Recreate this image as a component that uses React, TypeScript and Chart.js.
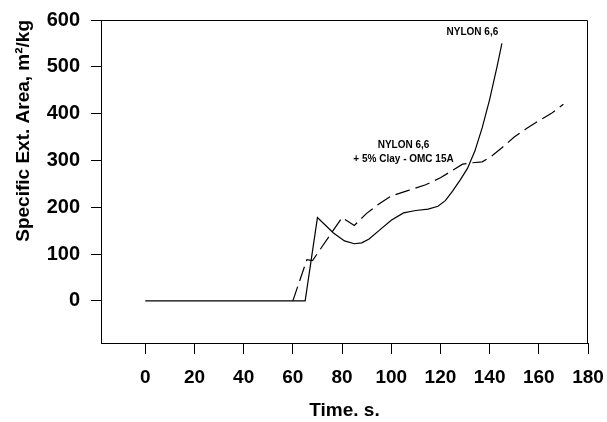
import React, { useEffect, useRef } from "react";
import { Chart, registerables } from "chart.js";

Chart.register(...registerables);

const nylonTime = [0, 65, 70, 76.5, 81, 85, 88, 91, 95, 100, 105, 110, 115, 119, 122, 125, 128, 131, 134, 137, 140, 143, 145];
const nylonArea = [0, 0, 178, 145, 128, 122, 124, 132, 150, 172, 188, 193, 196, 202, 214, 235, 258, 283, 320, 370, 430, 500, 550];

const clayTime = [60, 65.7, 68, 80, 85, 90, 95, 100, 107, 114, 120, 125, 129, 133, 137, 141, 145, 150, 155, 160, 165, 170];
const clayArea = [0, 88, 86, 178, 161, 187, 207, 224, 236, 248, 263, 279, 292, 295, 297, 310, 327, 350, 368, 385, 400, 420];

const xTicks = [0, 20, 40, 60, 80, 100, 120, 140, 160, 180];
const yTicks = [0, 100, 200, 300, 400, 500, 600];

const labels = [
  { text: "NYLON 6,6", x: 133, y: 573 },
  { text: "NYLON 6,6", x: 105, y: 333 },
  { text: "+ 5% Clay - OMC 15A", x: 105, y: 303 },
];

const FONT = '"Liberation Sans", Arial, sans-serif';

const zeroPad = (s: any) => {
  s.paddingTop = 0;
  s.paddingBottom = 0;
  s.paddingLeft = 0;
  s.paddingRight = 0;
};

export default function App() {
  const ref = useRef<HTMLCanvasElement>(null);
  useEffect(() => {
    document.body.style.margin = "0";
    const ctx = ref.current!;
    const boxPlugin = {
      id: "box",
      afterDraw(chart: any) {
        const { ctx, chartArea } = chart;
        ctx.save();
        ctx.strokeStyle = "#000";
        ctx.lineWidth = 1;
        ctx.beginPath();
        ctx.moveTo(chartArea.left, chartArea.top + 0.5);
        ctx.lineTo(chartArea.right - 0.5, chartArea.top + 0.5);
        ctx.lineTo(chartArea.right - 0.5, chartArea.bottom);
        ctx.stroke();
        ctx.fillStyle = "#000";
        ctx.font = `bold 10px ${FONT}`;
        ctx.textAlign = "center";
        ctx.textBaseline = "middle";
        const xs = chart.scales.x;
        const ys = chart.scales.y;
        for (const l of labels) {
          ctx.fillText(l.text, xs.getPixelForValue(l.x), ys.getPixelForValue(l.y));
        }
        ctx.restore();
      },
    };
    const chart = new Chart(ctx, {
      type: "line",
      data: {
        datasets: [
          {
            label: "NYLON 6,6",
            data: nylonTime.map((t, i) => ({ x: t, y: nylonArea[i] })),
            borderColor: "#000",
            borderWidth: 1.2,
            pointRadius: 0,
            tension: 0,
            fill: false,
          },
          {
            label: "NYLON 6,6 + 5% Clay - OMC 15A",
            data: clayTime.map((t, i) => ({ x: t, y: clayArea[i] })),
            borderColor: "#000",
            borderWidth: 1.2,
            borderDash: [15, 6],
            pointRadius: 0,
            tension: 0,
            fill: false,
          },
        ],
      },
      options: {
        animation: false,
        responsive: false,
        maintainAspectRatio: false,
        layout: { padding: { top: 20, right: 19, left: 0, bottom: 0 } },
        plugins: { legend: { display: false }, tooltip: { enabled: false } },
        scales: {
          x: {
            type: "linear",
            min: -18,
            max: 180,
            afterBuildTicks: (s: any) => {
              s.ticks = xTicks.map((v) => ({ value: v }));
            },
            afterFit: (s: any) => {
              s.height = 79;
              zeroPad(s);
            },
            grid: {
              display: true,
              drawOnChartArea: false,
              drawTicks: true,
              tickLength: 11,
              color: "#000",
              lineWidth: 1,
            },
            border: { display: true, color: "#000", width: 1 },
            ticks: {
              color: "#000",
              padding: 12,
              maxRotation: 0,
              font: { family: FONT, size: 19, weight: "bold" },
            },
            title: {
              display: true,
              text: "Time. s.",
              color: "#000",
              padding: { top: 0, bottom: 0 },
              font: { family: FONT, size: 19, weight: "bold" },
            },
          },
          y: {
            type: "linear",
            min: -90,
            max: 600,
            afterBuildTicks: (s: any) => {
              s.ticks = yTicks.map((v) => ({ value: v }));
            },
            afterFit: (s: any) => {
              s.width = 101;
              zeroPad(s);
            },
            grid: {
              display: true,
              drawOnChartArea: false,
              drawTicks: true,
              tickLength: 10,
              color: "#000",
              lineWidth: 1,
            },
            border: { display: true, color: "#000", width: 1 },
            ticks: {
              color: "#000",
              padding: 11,
              font: { family: FONT, size: 20, weight: "bold" },
            },
            title: {
              display: true,
              text: "Specific Ext. Area, m²/kg",
              color: "#000",
              align: "end",
              padding: { top: 12, bottom: 0 },
              font: { family: FONT, size: 19, weight: "bold" },
            },
          },
        },
      },
      plugins: [boxPlugin],
    });
    return () => chart.destroy();
  }, []);
  return (
    <div style={{ width: 607, height: 422 }}>
      <canvas ref={ref} width={607} height={422} style={{ display: "block" }} />
    </div>
  );
}
